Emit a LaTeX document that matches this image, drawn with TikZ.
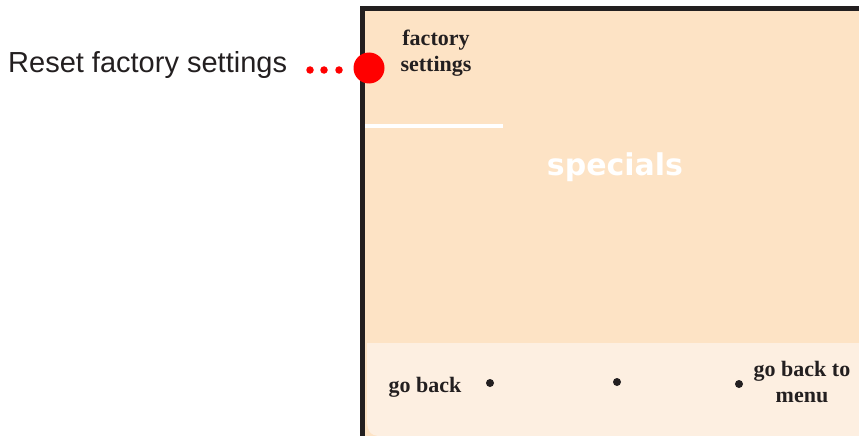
\documentclass[tikz,border=0pt]{standalone}
\usepackage{fontspec}
\setmainfont{Liberation Serif}
\newfontfamily\labelsans{Liberation Sans}
\newfontfamily\specsans{DejaVu Sans}
\definecolor{peach}{HTML}{FDE3C5}
\definecolor{lightpeach}{HTML}{FDEFE1}
\definecolor{framecol}{HTML}{231F20}
\definecolor{ink}{HTML}{231F20}
\definecolor{redpt}{HTML}{FF0000}
\begin{document}
\begin{tikzpicture}[x=1pt,y=-1pt,
  paneltext/.style={font=\bfseries\fontsize{22}{26}\selectfont, text=ink, align=center, inner sep=0pt},
  smalldot/.style={circle, fill=ink, inner sep=0pt, minimum size=8pt},
  reddot/.style={circle, fill=redpt, inner sep=0pt, minimum size=7.5pt}]
\useasboundingbox (0,0) rectangle (859,436);
% panel
\fill[peach] (362,9) rectangle (859,436);
\fill[lightpeach] (367,343) -- (859,343) -- (859,436) -- (380,436) .. controls (370,436) and (367,430) .. (367,420) -- cycle;
\draw[framecol, line width=5pt] (362,436) -- (362,9) -- (859,9);
\draw[white, line width=4pt] (365,126) -- (503,126);
% texts
\node[paneltext] (fs) at (436,53) {factory\\settings};
\node[font=\specsans\bfseries\fontsize{30}{36}\selectfont, text=white, inner sep=0pt] (sp) at (615,167) {specials};
\node[paneltext] (gb) at (425,387) {go back};
\node[paneltext] (gbm) at (802,382) {go back to\\menu};
\node[smalldot] (d1) at (490,383) {};
\node[smalldot] (d2) at (617,382) {};
\node[smalldot] (d3) at (739,384) {};
% callout
\node[circle, fill=redpt, inner sep=0pt, minimum size=31pt] (big) at (369,68) {};
\node[reddot] (r1) at (310,70) {};
\node[reddot] (r2) at (324,70) {};
\node[reddot] (r3) at (339,70) {};
\node[anchor=west, font=\labelsans\fontsize{29}{33}\selectfont, text=ink, inner sep=0pt] (reset) at (8,65) {Reset factory settings};
\end{tikzpicture}
\end{document}
